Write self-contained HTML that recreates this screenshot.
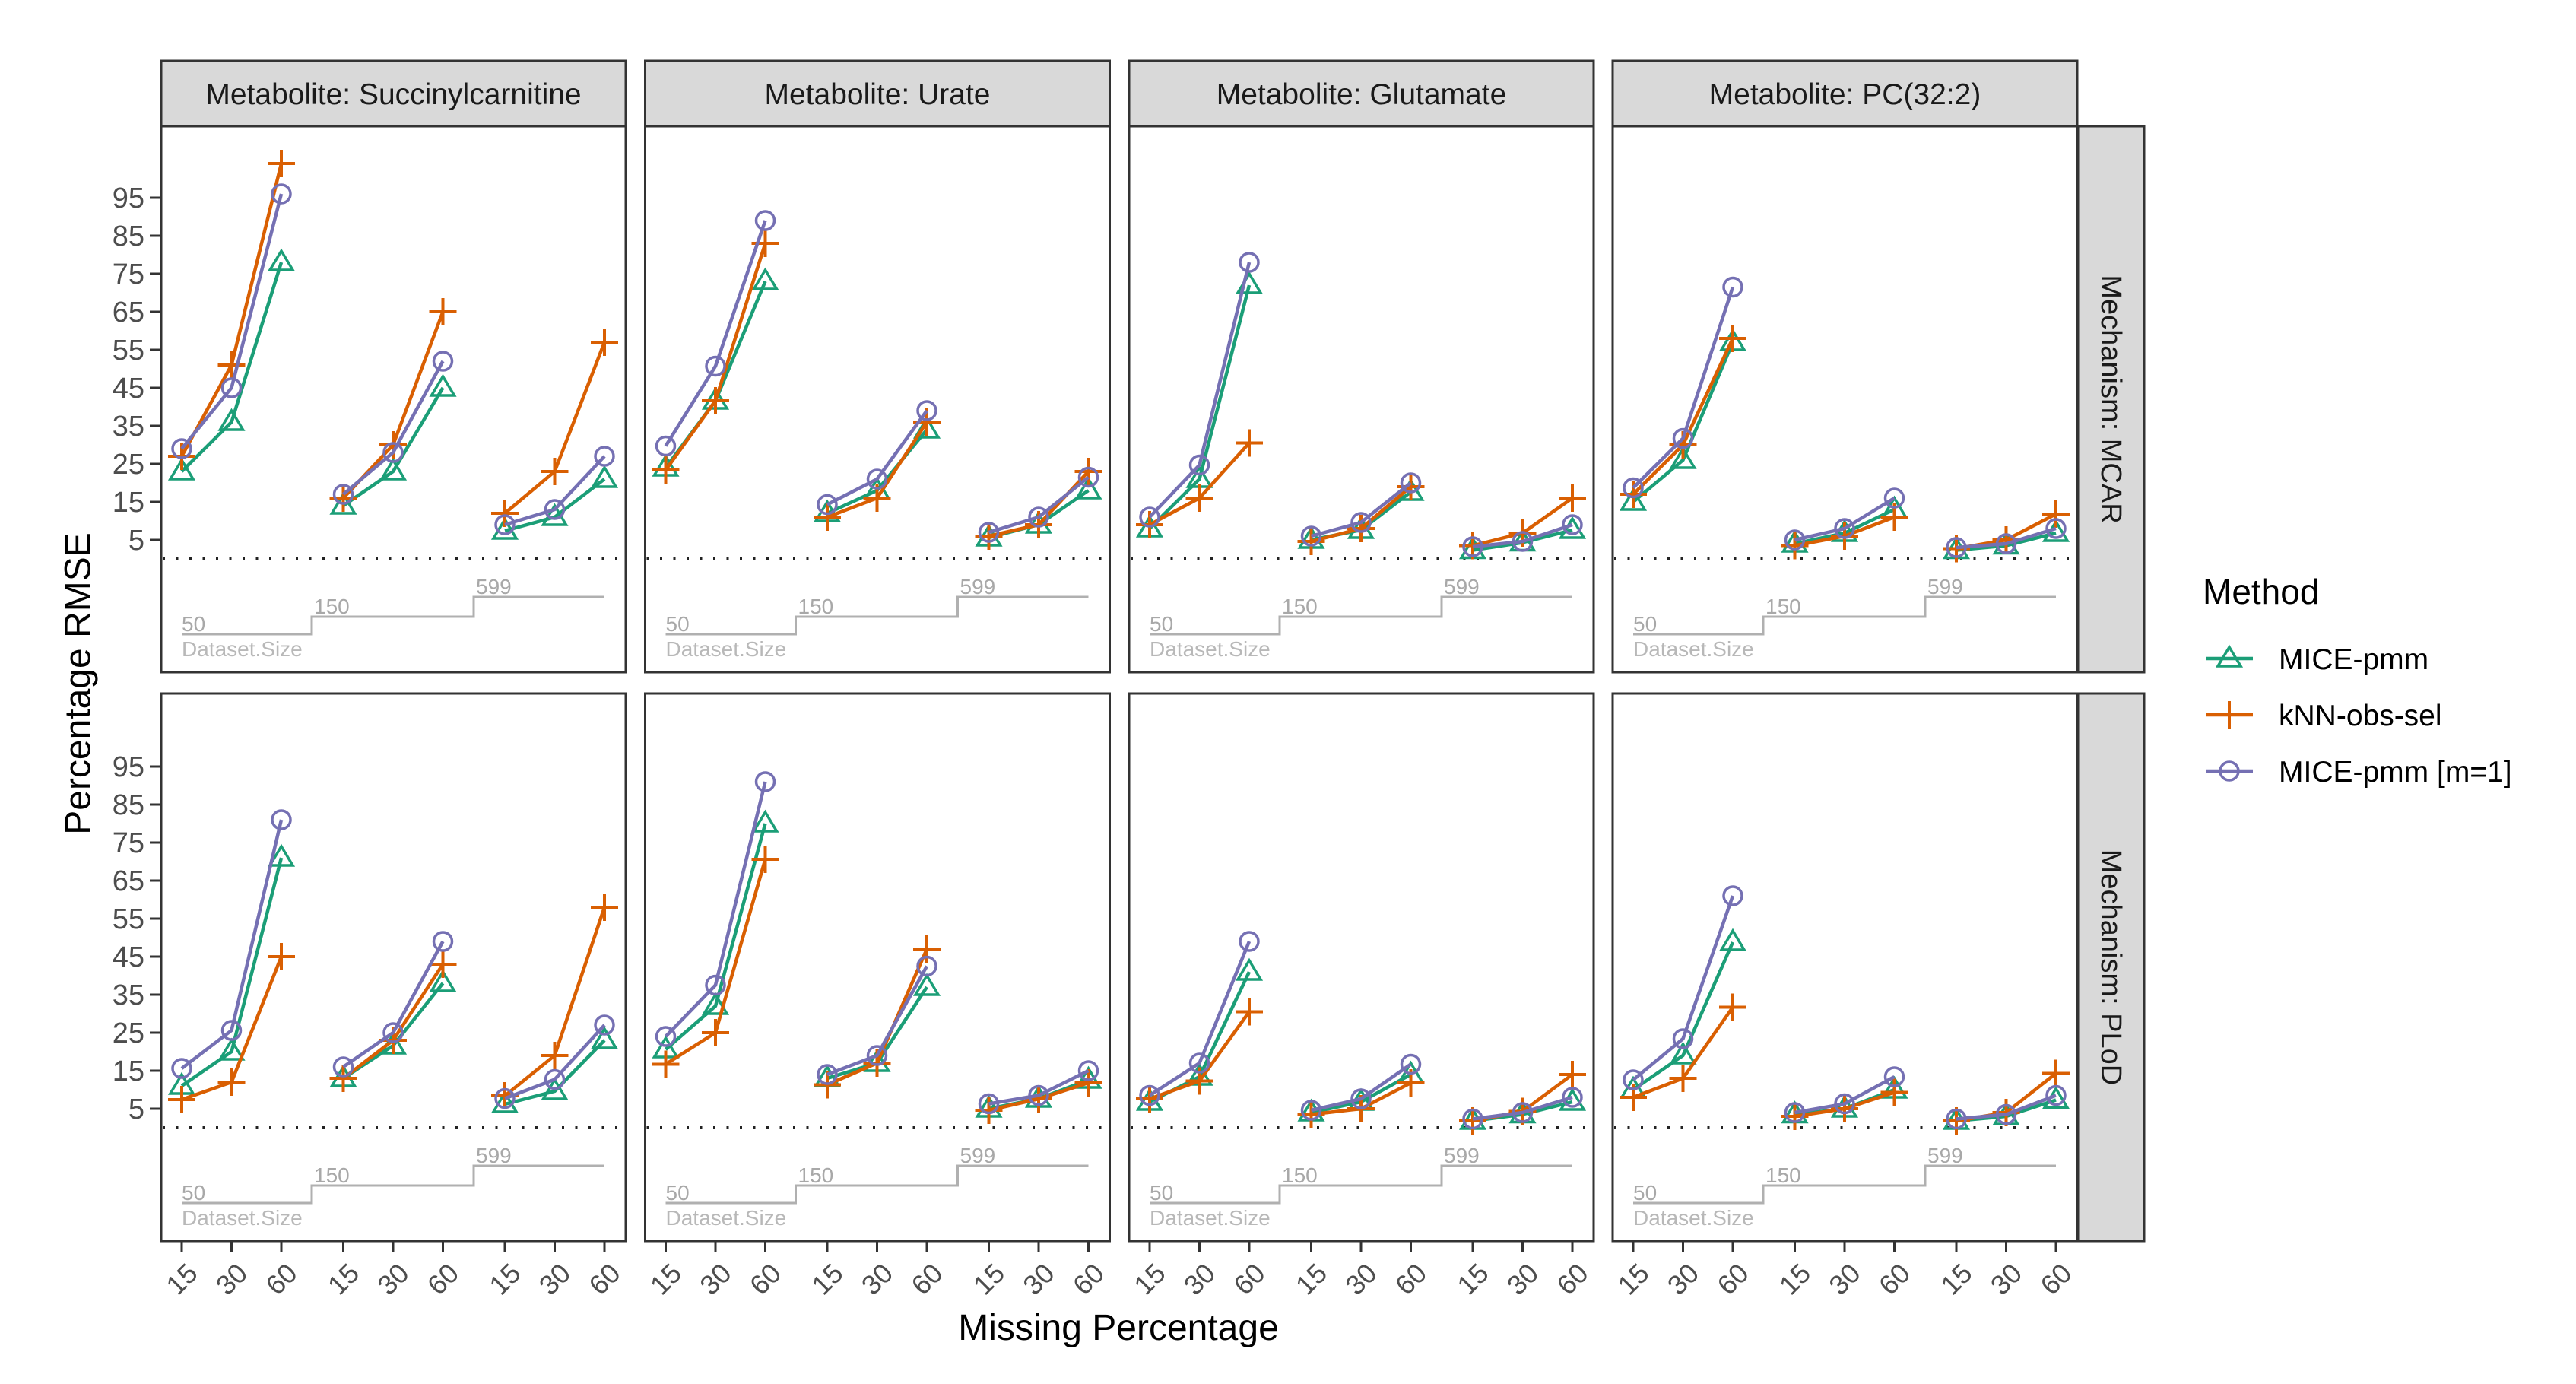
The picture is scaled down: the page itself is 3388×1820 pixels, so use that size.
<!DOCTYPE html>
<html><head><meta charset="utf-8"><style>
html,body{margin:0;padding:0;background:#fff;}
svg{display:block;font-family:"Liberation Sans",Arial,sans-serif;}
</style></head><body>
<svg id="chart" width="3388" height="1820" viewBox="0 0 3388 1820" xmlns="http://www.w3.org/2000/svg">
<rect x="0" y="0" width="3388" height="1820" fill="#fff"/>
</svg>
<script>
const metabolites = ["Succinylcarnitine", "Urate", "Glutamate", "PC(32:2)"];
const mechanisms = ["MCAR", "PLoD"];
const datasetSizes = ["50", "150", "599"];
const missingPcts = ["15", "30", "60"];
const yTicks = [5, 15, 25, 35, 45, 55, 65, 75, 85, 95];
const methods = ["MICE-pmm", "kNN-obs-sel", "MICE-pmm [m=1]"];

// MCAR values: per metabolite, 9 points (size 50:15,30,60 | 150 | 599)
const mcarMicePmm = [
  [23, 36, 78, 14, 23, 45, 7.4, 11, 21],
  [24, 41.6, 73, 12, 18, 34, 5.6, 9, 18],
  [8, 21, 72, 5, 7.6, 17.6, 2.3, 4.3, 7.6],
  [15, 26, 57, 4, 6.8, 13, 2.3, 3.5, 6.8]
];
const mcarKnn = [
  [27, 51, 104, 16, 30, 65, 12, 23, 57],
  [23.4, 41.6, 83, 11, 16, 36, 6, 9, 23],
  [9, 16, 30.5, 4.6, 8, 19, 3.5, 6.8, 16],
  [17, 30, 58, 3.5, 6, 11, 2.7, 5, 11.8]
];
const mcarMiceM1 = [
  [29, 45, 96, 17, 28, 52, 9, 13, 27],
  [29.7, 50.7, 89, 14.3, 21, 39, 7, 11, 21.5],
  [11, 24.7, 78, 6, 9.6, 20, 3.2, 4.6, 9],
  [18.7, 31.7, 71.5, 5, 8, 16, 3, 4, 8]
];
// PLoD values
const plodMicePmm = [
  [11, 20, 71, 13, 21.6, 38, 6.2, 9.6, 23],
  [20.6, 32, 80, 13, 17, 37, 5, 7.6, 12.6],
  [6.8, 13.4, 41, 4, 6.8, 14, 1.8, 3.5, 6.8],
  [10, 19, 48.8, 3.5, 5, 10, 1.8, 3, 7.3]
];
const plodKnn = [
  [7.4, 12, 45, 13, 23, 43, 8.4, 19, 58],
  [16.7, 25, 70.6, 11.3, 17, 47, 4.6, 7.6, 11.8],
  [7.6, 12.3, 30.5, 3.5, 5, 11.8, 1.8, 4.3, 14],
  [8, 13, 31.7, 3, 5, 9.3, 1.8, 4, 14.3]
];
const plodMiceM1 = [
  [15.6, 25.6, 81, 16, 25, 49, 7.7, 12.7, 27],
  [24, 37.5, 91, 14, 19, 42.5, 6.3, 8.5, 15],
  [8.5, 17, 49, 4.6, 7.6, 16.7, 2.3, 4, 8],
  [12.6, 23.4, 61, 4, 6.3, 13.4, 2.3, 3.5, 8.5]
];

const svg = document.getElementById('chart');
const NS = "http://www.w3.org/2000/svg";
function mk(tag, attrs, parent) {
  const e = document.createElementNS(NS, tag);
  for (const k in attrs) e.setAttribute(k, attrs[k]);
  (parent || svg).appendChild(e);
  return e;
}
const colors = ["#1b9e77", "#d95f02", "#7570b3"];
const panelX = [212, 848.5, 1485, 2121];
const panelW = 611;
const rowTop = [166, 912];
const rowBot = [884, 1632];
const zeroY = [735, 1483];
const pxPerUnit = 5.0;
const xOffsets = [27, 92.5, 158, 239.5, 305, 370.5, 452, 517.5, 583];

function xScale(col, idx) { return panelX[col] + xOffsets[idx]; }
function yScale(row, v) { return zeroY[row] - v * pxPerUnit; }

const allData = [[mcarMicePmm, mcarKnn, mcarMiceM1], [plodMicePmm, plodKnn, plodMiceM1]];

function marker(g, m, x, y) {
  const c = colors[m];
  let e;
  if (m === 0) {
    e = mk('path', {d: `M${x-15},${y+10} L${x+15},${y+10} L${x},${y-15} Z`, fill: 'none', stroke: c, 'stroke-width': 3.5}, g);
  } else if (m === 1) {
    e = mk('path', {d: `M${x-18},${y} L${x+18},${y} M${x},${y-18} L${x},${y+18}`, fill: 'none', stroke: c, 'stroke-width': 4}, g);
  } else {
    e = mk('circle', {cx: x, cy: y, r: 12, fill: 'none', stroke: c, 'stroke-width': 3.5}, g);
  }
  
  
}

for (let r = 0; r < 2; r++) {
  for (let c = 0; c < 4; c++) {
    const g = mk('g', {});
    
    
    const px = panelX[c];
    const pb = mk('rect', {x: px, y: rowTop[r], width: panelW, height: rowBot[r] - rowTop[r], fill: '#fff', stroke: '#333', 'stroke-width': 3}, g);
    
    
    const dl = mk('line', {x1: px + 2, x2: px + panelW - 2, y1: zeroY[r], y2: zeroY[r], stroke: '#222', 'stroke-width': 4, 'stroke-dasharray': '3 14.5'}, g);
    
    
    const z = zeroY[r];
    const lv = [z + 99, z + 76, z + 50];
    const sx = [xScale(c, 0), px + 198, px + 411, xScale(c, 8)];
    const sp = mk('path', {d: `M${sx[0]},${lv[0]} H${sx[1]} V${lv[1]} H${sx[2]} V${lv[2]} H${sx[3]}`, fill: 'none', stroke: '#b0b0b0', 'stroke-width': 3}, g);
    
    
    for (let k = 0; k < 3; k++) {
      const t = mk('text', {x: sx[k] + (k ? 3 : 0), y: lv[k] - 4, 'font-size': 28, fill: '#a8a8a8'}, g);
      t.textContent = datasetSizes[k];
      
      
    }
    const ds = mk('text', {x: sx[0], y: z + 128, 'font-size': 28, fill: '#b8b8b8'}, g);
    ds.textContent = 'Dataset.Size';
    
    
    for (let m = 0; m < 3; m++) {
      const vals = allData[r][m][c];
      for (let grp = 0; grp < 3; grp++) {
        let d = '';
        for (let j = 0; j < 3; j++) {
          const i = grp * 3 + j;
          d += (j ? 'L' : 'M') + xScale(c, i) + ',' + yScale(r, vals[i]);
        }
        const ln = mk('path', {d: d, fill: 'none', stroke: colors[m], 'stroke-width': 4.5, 'stroke-linejoin': 'round'}, g);
        
        
      }
      for (let i = 0; i < 9; i++) marker(g, m, xScale(c, i), yScale(r, vals[i]));
    }
  }
  for (let t = 0; t < yTicks.length; t++) {
    const y = yScale(r, yTicks[t]);
    const tk = mk('line', {x1: 197, x2: 212, y1: y, y2: y, stroke: '#333', 'stroke-width': 3});
    
    
    const tl = mk('text', {x: 190, y: y + 13, 'font-size': 38, fill: '#4d4d4d', 'text-anchor': 'end'});
    tl.textContent = yTicks[t];
    
    
  }
  const rs = mk('rect', {x: 2733, y: rowTop[r], width: 87, height: rowBot[r] - rowTop[r], fill: '#d9d9d9', stroke: '#333', 'stroke-width': 3});
  
  
  const cy = (rowTop[r] + rowBot[r]) / 2;
  const rt = mk('text', {x: 2776, y: cy, 'font-size': 38, fill: '#1a1a1a', 'text-anchor': 'middle', 'dominant-baseline': 'central', transform: `rotate(90 2776 ${cy})`});
  rt.textContent = 'Mechanism: ' + mechanisms[r];
  
  
}

for (let c = 0; c < 4; c++) {
  const s = mk('rect', {x: panelX[c], y: 80, width: panelW, height: 86, fill: '#d9d9d9', stroke: '#333', 'stroke-width': 3});
  
  
  const t = mk('text', {x: panelX[c] + panelW / 2, y: 137, 'font-size': 39, fill: '#1a1a1a', 'text-anchor': 'middle'});
  t.textContent = 'Metabolite: ' + metabolites[c];
  
  
  for (let i = 0; i < 9; i++) {
    const x = xScale(c, i);
    const tk = mk('line', {x1: x, x2: x, y1: 1632, y2: 1647, stroke: '#333', 'stroke-width': 3});
    
    
    const tl = mk('text', {x: x, y: 1682, 'font-size': 36, fill: '#4d4d4d', 'text-anchor': 'middle', 'dominant-baseline': 'central', transform: `rotate(-45 ${x} 1682)`});
    tl.textContent = missingPcts[i % 3];
    
    
  }
}

const yt = mk('text', {x: 103, y: 899, 'font-size': 48, fill: '#000', 'text-anchor': 'middle', 'dominant-baseline': 'central', transform: 'rotate(-90 103 899)'});
yt.textContent = 'Percentage RMSE';


const xt = mk('text', {x: 1471, y: 1762, 'font-size': 48, fill: '#000', 'text-anchor': 'middle'});
xt.textContent = 'Missing Percentage';



const lg = mk('g', {});


const lt = mk('text', {x: 2897, y: 794, 'font-size': 46, fill: '#000'}, lg);
lt.textContent = 'Method';


const legY = [866, 940, 1014];
for (let m = 0; m < 3; m++) {
  const eg = mk('g', {}, lg);
  
  
  const kl = mk('line', {x1: 2901, x2: 2963, y1: legY[m], y2: legY[m], stroke: colors[m], 'stroke-width': 4.5}, eg);
  
  
  marker(eg, m, 2932, legY[m]);
  const tx = mk('text', {x: 2997, y: legY[m] + 14, 'font-size': 39, fill: '#000'}, eg);
  tx.textContent = methods[m];
  
  
}
</script>
</body></html>
